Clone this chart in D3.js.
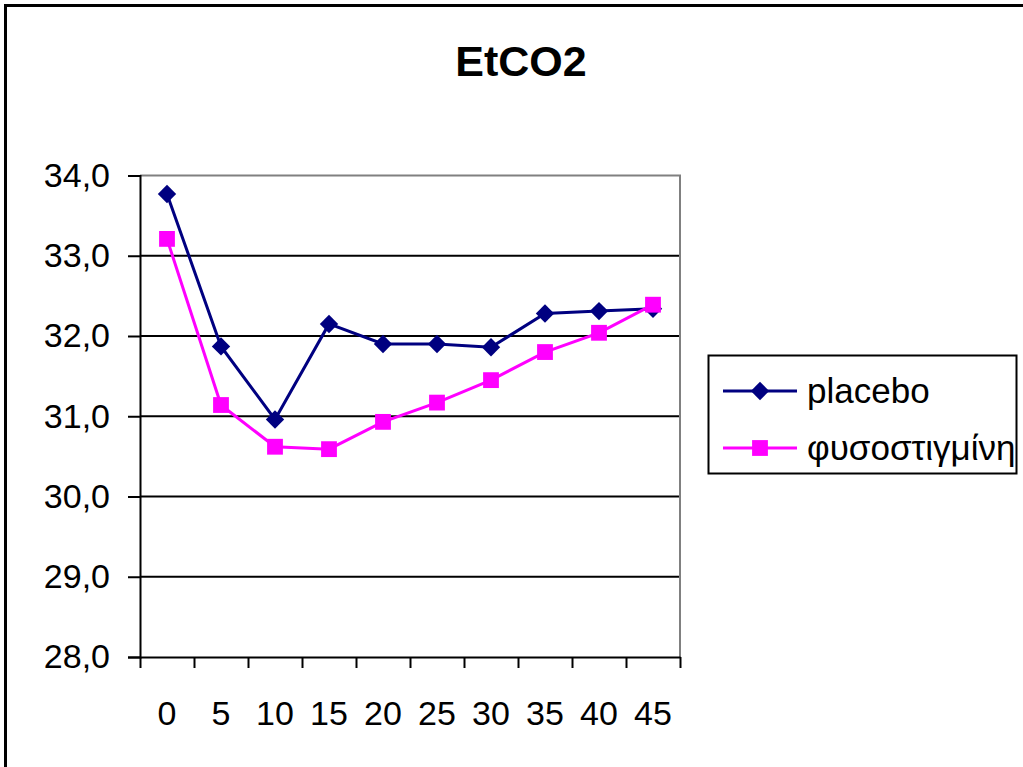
<!DOCTYPE html>
<html>
<head>
<meta charset="utf-8">
<script src="https://cdn.jsdelivr.net/npm/d3@7"></script>
<style>
  body { margin: 0; background: #fff; }
  text { font-family: "Liberation Sans", Arial, sans-serif; }
</style>
</head>
<body>
<div id="chart"></div>
<script>
// minutes after start
var minutes = ["0", "5", "10", "15", "20", "25", "30", "35", "40", "45"];
// series values
var placebo = [33.77, 31.87, 30.96, 32.15, 31.90, 31.90, 31.86, 32.28, 32.31, 32.34];
var physo = [33.21, 31.14, 30.62, 30.59, 30.93, 31.17, 31.45, 31.80, 32.04, 32.39];
var yTicks = [28, 29, 30, 31, 32, 33, 34];
var seriesNames = ["placebo", "φυσοστιγμίνη"];

function init() {
    var w = 1023, h = 767;

    var svg = d3.select("#chart").append("svg")
        .attr("width", w)
        .attr("height", h);

    // outer chart frame (right and bottom run off the picture)
    svg.append("rect")
        .attr("x", 5.5).attr("y", 5.5)
        .attr("width", 1100).attr("height", 900)
        .attr("fill", "#fff")
        .attr("stroke", "#000")
        .attr("stroke-width", 3);

    var plot = { left: 140, right: 680, top: 175.5, bottom: 657 };

    var x = d3.scaleBand()
        .domain(minutes)
        .range([plot.left, plot.right]);

    // positions of category boundaries for the tick marks
    var xEdge = d3.scaleLinear()
        .domain([0, minutes.length])
        .range([plot.left, plot.right]);

    var y = d3.scaleLinear()
        .domain([28, 34])
        .range([plot.bottom, plot.top]);

    var comma = d3.formatLocale({ decimal: ",", thousands: ".", grouping: [3], currency: ["", "€"] }).format(".1f");

    // title
    svg.append("text")
        .attr("x", 521).attr("y", 76)
        .attr("text-anchor", "middle")
        .style("font-size", "43px")
        .style("font-weight", "bold")
        .text("EtCO2");

    // gridlines
    svg.append("g").selectAll("line")
        .data(yTicks.filter(function(d) { return d > 28 && d < 34; }))
        .enter().append("line")
        .attr("x1", plot.left).attr("x2", plot.right)
        .attr("y1", function(d) { return y(d); })
        .attr("y2", function(d) { return y(d); })
        .attr("stroke", "#000")
        .attr("stroke-width", 2);

    // plot area border (top and right in gray)
    svg.append("path")
        .attr("d", "M" + plot.left + "," + plot.top + "H" + plot.right + "V" + plot.bottom)
        .attr("fill", "none")
        .attr("stroke", "#808080")
        .attr("stroke-width", 2);

    // y axis
    var yAxis = svg.append("g")
        .attr("transform", "translate(" + plot.left + ",0)")
        .call(d3.axisLeft(y).tickValues(yTicks).tickSize(12).tickPadding(18).tickFormat(comma));
    yAxis.select(".domain").attr("stroke-width", 2);
    yAxis.selectAll(".tick line").attr("stroke-width", 2);
    yAxis.selectAll("text")
        .attr("fill", "#000")
        .style("font-size", "34px")
        .style("font-family", "'Liberation Sans', Arial, sans-serif");

    // x axis tick marks at category boundaries
    var xTickAxis = svg.append("g")
        .attr("transform", "translate(0," + plot.bottom + ")")
        .call(d3.axisBottom(xEdge).tickValues(d3.range(minutes.length + 1)).tickSize(11).tickSizeOuter(0).tickFormat(""));
    xTickAxis.select(".domain").attr("stroke-width", 2);
    xTickAxis.selectAll(".tick line").attr("stroke-width", 2);

    // x axis labels
    var xAxis = svg.append("g")
        .attr("transform", "translate(0," + plot.bottom + ")")
        .call(d3.axisBottom(x).tickSize(0).tickPadding(68));
    xAxis.select(".domain").remove();
    xAxis.selectAll("text")
        .attr("fill", "#000")
        .attr("dy", "0")
        .style("font-size", "34px")
        .style("font-family", "'Liberation Sans', Arial, sans-serif");

    var line = d3.line()
        .x(function(d, i) { return x(minutes[i]) + x.bandwidth() / 2; })
        .y(function(d) { return y(d); });

    var diamond = d3.symbol().type(d3.symbolDiamond2).size(215);
    var square = d3.symbol().type(d3.symbolSquare).size(250);

    var seriesData = [placebo, physo];
    var seriesColors = ["#000080", "#ff00ff"];
    var seriesSymbols = [diamond, square];

    // series in order, the second one drawn on top
    seriesData.forEach(function(values, s) {
        svg.append("path")
            .datum(values)
            .attr("d", line)
            .attr("fill", "none")
            .attr("stroke", seriesColors[s])
            .attr("stroke-width", 3);
        svg.append("g").selectAll("path")
            .data(values)
            .enter().append("path")
            .attr("d", seriesSymbols[s])
            .attr("transform", function(d, i) { return "translate(" + (x(minutes[i]) + x.bandwidth() / 2) + "," + y(d) + ")"; })
            .attr("fill", seriesColors[s]);
    });

    // legend
    var legend = svg.append("g");
    legend.append("rect")
        .attr("x", 708.5).attr("y", 355.5)
        .attr("width", 308).attr("height", 118)
        .attr("fill", "#fff")
        .attr("stroke", "#000")
        .attr("stroke-width", 2);

    var legendY = [391, 448];

    seriesNames.forEach(function(name, i) {
        legend.append("line")
            .attr("x1", 723).attr("x2", 797)
            .attr("y1", legendY[i]).attr("y2", legendY[i])
            .attr("stroke", seriesColors[i])
            .attr("stroke-width", 3);
        legend.append("path")
            .attr("d", seriesSymbols[i])
            .attr("transform", "translate(760," + legendY[i] + ")")
            .attr("fill", seriesColors[i]);
        legend.append("text")
            .attr("x", 807)
            .attr("y", legendY[i] + 12)
            .style("font-size", "35px")
            .text(name);
    });
}

window.onload = init;
</script>
</body>
</html>
